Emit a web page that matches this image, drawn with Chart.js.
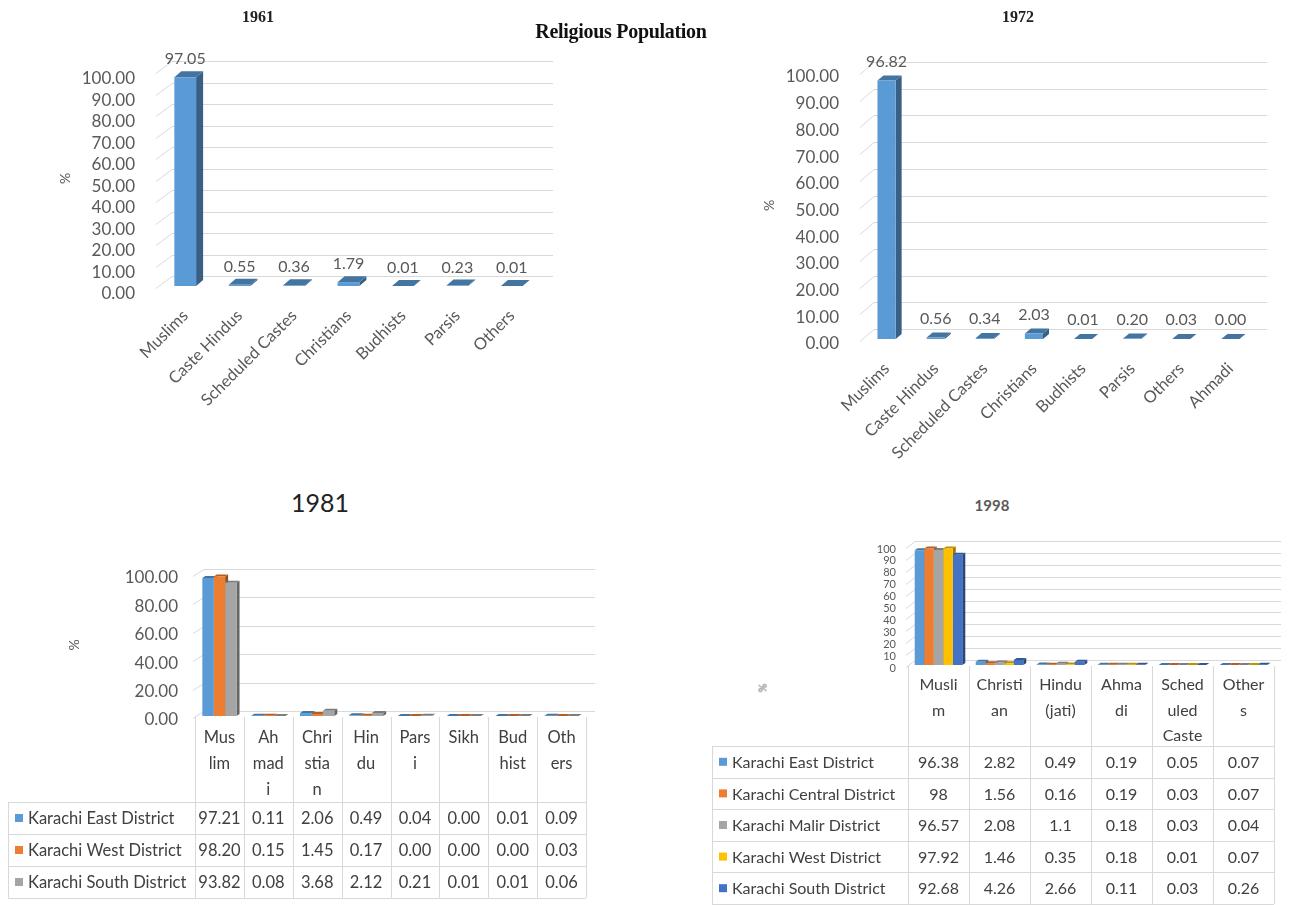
<!DOCTYPE html>
<html>
<head>
<meta charset="utf-8">
<script src="https://cdn.jsdelivr.net/npm/chart.js@4.4.0/dist/chart.umd.min.js"></script>
<style>
  body { margin: 0; background: #fff; }
  #page { position: relative; width: 1290px; height: 905px; overflow: hidden; background: #fff; }
  canvas { position: absolute; }
  .t { position: absolute; transform: translate(-50%, -50%); white-space: nowrap; }
</style>
</head>
<body>
<div id="page">
  <canvas id="c1961" width="640" height="450" style="left:0;top:0"></canvas>
  <canvas id="c1972" width="630" height="470" style="left:660px;top:0"></canvas>
  <canvas id="c1981" width="640" height="385" style="left:0;top:520px"></canvas>
  <canvas id="c1998" width="600" height="385" style="left:690px;top:520px"></canvas>

  <div class="t" style="left:621px;top:31px;font:bold 20px 'Liberation Serif';color:#111;letter-spacing:-0.3px">Religious Population</div>
  <div class="t" style="left:258px;top:17px;font:bold 16px 'Liberation Serif';color:#222">1961</div>
  <div class="t" style="left:1018px;top:17px;font:bold 16px 'Liberation Serif';color:#222">1972</div>
  <div class="t" style="left:320px;top:502px;font:25px Lato;color:#222">1981</div>
  <div class="t" style="left:992px;top:505px;font:bold 15px Lato;color:#595959">1998</div>
  <div class="t" style="left:762px;top:688px;font:11px Lato;color:#595959;transform:translate(-50%,-50%) rotate(-90deg)">%</div>
</div>
<script>
// ---- data ----
var cats1961 = ['Muslims', 'Caste Hindus', 'Scheduled Castes', 'Christians', 'Budhists', 'Parsis', 'Others'];
var vals1961 = [97.05, 0.55, 0.36, 1.79, 0.01, 0.23, 0.01];

var cats1972 = ['Muslims', 'Caste Hindus', 'Scheduled Castes', 'Christians', 'Budhists', 'Parsis', 'Others', 'Ahmadi'];
var vals1972 = [96.82, 0.56, 0.34, 2.03, 0.01, 0.20, 0.03, 0.00];

var cats1981 = ['Muslim', 'Ahmadi', 'Christian', 'Hindu', 'Parsi', 'Sikh', 'Budhist', 'Others'];
var head1981 = [['Mus', 'lim'], ['Ah', 'mad', 'i'], ['Chri', 'stia', 'n'], ['Hin', 'du'], ['Pars', 'i'], ['Sikh'], ['Bud', 'hist'], ['Oth', 'ers']];
var dist1981 = ['Karachi East District', 'Karachi West District', 'Karachi South District'];
var east1981 = [97.21, 0.11, 2.06, 0.49, 0.04, 0.00, 0.01, 0.09];
var west1981 = [98.20, 0.15, 1.45, 0.17, 0.00, 0.00, 0.00, 0.03];
var south1981 = [93.82, 0.08, 3.68, 2.12, 0.21, 0.01, 0.01, 0.06];

var cats1998 = ['Muslim', 'Christian', 'Hindu (jati)', 'Ahmadi', 'Scheduled Caste', 'Others'];
var head1998 = [['Musli', 'm'], ['Christi', 'an'], ['Hindu', '(jati)'], ['Ahma', 'di'], ['Sched', 'uled', 'Caste'], ['Other', 's']];
var dist1998 = ['Karachi East District', 'Karachi Central District', 'Karachi Malir District', 'Karachi West District', 'Karachi South District'];
var east1998 = [96.38, 2.82, 0.49, 0.19, 0.05, 0.07];
var central1998 = [98, 1.56, 0.16, 0.19, 0.03, 0.07];
var malir1998 = [96.57, 2.08, 1.1, 0.18, 0.03, 0.04];
var west1998 = [97.92, 1.46, 0.35, 0.18, 0.01, 0.07];
var south1998 = [92.68, 4.26, 2.66, 0.11, 0.03, 0.26];

var colors1981 = ['#5b9bd5', '#ed7d31', '#a5a5a5'];
var colors1998 = ['#5b9bd5', '#ed7d31', '#a5a5a5', '#ffc000', '#4472c4'];

var grey = '#595959';

function shade(hex, f) {
  var n = parseInt(hex.slice(1), 16);
  var r = (n >> 16) & 255, g = (n >> 8) & 255, b = n & 255;
  return 'rgb(' + Math.round(r * f) + ',' + Math.round(g * f) + ',' + Math.round(b * f) + ')';
}

// back wall grid + 3d faces of the bars
var wall3d = {
  id: 'wall3d',
  beforeDatasetsDraw: function (chart, args, o) {
    var ctx = chart.ctx, a = chart.chartArea, ys = chart.scales.y;
    ctx.save();
    ctx.strokeStyle = '#d9d9d9';
    ctx.lineWidth = 1;
    ys.ticks.forEach(function (t) {
      var y = Math.round(ys.getPixelForValue(t.value)) + 0.5;
      ctx.beginPath();
      ctx.moveTo(a.left - 2, y + 2);
      ctx.lineTo(a.left + o.dx, y - o.dy);
      ctx.lineTo(a.right + o.dx, y - o.dy);
      ctx.stroke();
    });
    chart.data.datasets.forEach(function (ds, i) {
      var meta = chart.getDatasetMeta(i);
      meta.data.forEach(function (bar) {
        var p = bar.getProps(['x', 'y', 'base', 'width'], true);
        var l = p.x - p.width / 2, r = p.x + p.width / 2;
        var top = Math.min(p.y, p.base), bot = Math.max(p.y, p.base);
        ctx.fillStyle = shade(ds.backgroundColor, 0.62);
        ctx.beginPath();
        ctx.moveTo(r, top); ctx.lineTo(r + o.bdx, top - o.bdy);
        ctx.lineTo(r + o.bdx, bot - o.bdy); ctx.lineTo(r, bot);
        ctx.closePath(); ctx.fill();
        ctx.fillStyle = shade(ds.backgroundColor, 0.75);
        ctx.beginPath();
        ctx.moveTo(l, top); ctx.lineTo(l + o.bdx, top - o.bdy);
        ctx.lineTo(r + o.bdx, top - o.bdy); ctx.lineTo(r, top);
        ctx.closePath(); ctx.fill();
      });
    });
    ctx.restore();
  }
};

// value labels over the bars
var barValues = {
  id: 'barValues',
  afterDatasetsDraw: function (chart, args, o) {
    if (!o.show) return;
    var ctx = chart.ctx;
    ctx.save();
    ctx.font = '16px Lato';
    ctx.fillStyle = grey;
    ctx.textAlign = 'center';
    ctx.textBaseline = 'middle';
    var ds = chart.data.datasets[0];
    chart.getDatasetMeta(0).data.forEach(function (bar, i) {
      ctx.fillText(ds.data[i].toFixed(2), bar.x, bar.y - o.gap);
    });
    ctx.restore();
  }
};

// data table under the plot, columns follow the category scale
var dataTable = {
  id: 'dataTable',
  afterDraw: function (chart, args, o) {
    if (!o.headers) return;
    var ctx = chart.ctx, xs = chart.scales.x, a = chart.chartArea;
    var n = chart.data.labels.length;
    var cw = (a.right - a.left) / n;
    var top = a.bottom + 1;
    var hb = top + o.headH;
    var dsets = chart.data.datasets;
    var bottom = hb + o.rowH * dsets.length;
    ctx.save();
    ctx.strokeStyle = '#d9d9d9';
    ctx.lineWidth = 1;
    ctx.beginPath();
    for (var i = 0; i <= n; i++) {
      var x = Math.round(i < n ? xs.getPixelForValue(i) - cw / 2 : xs.getPixelForValue(n - 1) + cw / 2) + 0.5;
      ctx.moveTo(x, top); ctx.lineTo(x, bottom);
    }
    ctx.moveTo(o.left + 0.5, hb); ctx.lineTo(o.left + 0.5, bottom);
    for (var k = 0; k <= dsets.length; k++) {
      var y = Math.round(hb + k * o.rowH) + 0.5;
      ctx.moveTo(o.left, y); ctx.lineTo(a.right, y);
    }
    ctx.stroke();

    ctx.fillStyle = '#404040';
    ctx.font = o.font;
    ctx.textAlign = 'center';
    ctx.textBaseline = 'middle';
    o.headers.forEach(function (lines, i) {
      lines.forEach(function (s, j) {
        ctx.fillText(s, xs.getPixelForValue(i), top + o.headPad + j * o.lineH);
      });
    });
    dsets.forEach(function (ds, r) {
      var cy = hb + (r + 0.5) * o.rowH;
      ctx.fillStyle = ds.backgroundColor;
      ctx.fillRect(o.left + 7, cy - 4, 8, 8);
      ctx.fillStyle = '#404040';
      ctx.textAlign = 'left';
      ctx.fillText(ds.label, o.left + 20, cy + 1);
      ctx.textAlign = 'center';
      ds.data.forEach(function (v, i) {
        ctx.fillText(o.fixed ? v.toFixed(2) : String(v), xs.getPixelForValue(i), cy + 1);
      });
    });
    ctx.restore();
  }
};

function yAxis(step, pad, off, width, fontSize, fmt, title) {
  return {
    min: 0, max: 100,
    grid: { display: false, drawTicks: false },
    border: { display: false },
    ticks: {
      stepSize: step, padding: pad, labelOffset: off, autoSkip: false,
      color: grey, font: { family: 'Lato', size: fontSize },
      callback: function (v) { return fmt ? v.toFixed(2) : String(v); }
    },
    title: { display: !!title, text: '%', color: grey, font: { family: 'Lato', size: 14 }, padding: 0 },
    afterFit: function (s) { s.width = width; }
  };
}

// 1961
new Chart(document.getElementById('c1961'), {
  type: 'bar',
  data: { labels: cats1961, datasets: [{ label: '1961', data: vals1961, backgroundColor: '#5b9bd5' }] },
  options: {
    responsive: false, animation: false,
    layout: { padding: { left: 57, top: 71, right: 101, bottom: 4 } },
    datasets: { bar: { categoryPercentage: 1, barPercentage: 0.4 } },
    plugins: {
      legend: { display: false }, tooltip: { enabled: false },
      wall3d: { dx: 14, dy: 10, bdx: 7, bdy: 6 },
      barValues: { show: true, gap: 18 }
    },
    scales: {
      x: {
        grid: { display: false, drawTicks: false }, border: { display: false },
        ticks: { color: grey, font: { family: 'Lato', size: 16.5 }, minRotation: 45, maxRotation: 45, padding: 20, autoSkip: false },
        afterFit: function (s) { s.height = 160; }
      },
      y: yAxis(10, 23, 8, 101, 17, true, true)
    }
  },
  plugins: [wall3d, barValues]
});

// 1972
new Chart(document.getElementById('c1972'), {
  type: 'bar',
  data: { labels: cats1972, datasets: [{ label: '1972', data: vals1972, backgroundColor: '#5b9bd5' }] },
  options: {
    responsive: false, animation: false,
    layout: { padding: { left: 101, top: 72, right: 35, bottom: 4 } },
    datasets: { bar: { categoryPercentage: 1, barPercentage: 0.37 } },
    plugins: {
      legend: { display: false }, tooltip: { enabled: false },
      wall3d: { dx: 12, dy: 10, bdx: 6, bdy: 5 },
      barValues: { show: true, gap: 19 }
    },
    scales: {
      x: {
        grid: { display: false, drawTicks: false }, border: { display: false },
        ticks: { color: grey, font: { family: 'Lato', size: 16.5 }, minRotation: 45, maxRotation: 45, padding: 20, autoSkip: false },
        afterFit: function (s) { s.height = 127; }
      },
      y: yAxis(10, 23, 5, 101, 17, true, true)
    }
  },
  plugins: [wall3d, barValues]
});

// 1981
new Chart(document.getElementById('c1981'), {
  type: 'bar',
  data: {
    labels: cats1981,
    datasets: [
      { label: dist1981[0], data: east1981, backgroundColor: colors1981[0] },
      { label: dist1981[1], data: west1981, backgroundColor: colors1981[1] },
      { label: dist1981[2], data: south1981, backgroundColor: colors1981[2] }
    ]
  },
  options: {
    responsive: false, animation: false,
    layout: { padding: { left: 66, top: 54, right: 54, bottom: 7 } },
    datasets: { bar: { categoryPercentage: 0.7, barPercentage: 1 } },
    plugins: {
      legend: { display: false }, tooltip: { enabled: false },
      wall3d: { dx: 9, dy: 5, bdx: 3, bdy: 2 },
      dataTable: { headers: head1981, left: 8, headH: 85, rowH: 32, headPad: 21, lineH: 26, font: '16.5px Lato', fixed: true }
    },
    scales: {
      x: {
        grid: { display: false }, border: { display: false }, ticks: { display: false },
        afterFit: function (s) { s.height = 182; }
      },
      y: yAxis(20, 17, 4, 129, 17, true, true)
    }
  },
  plugins: [wall3d, dataTable]
});

// 1998
new Chart(document.getElementById('c1998'), {
  type: 'bar',
  data: {
    labels: cats1998,
    datasets: [
      { label: dist1998[0], data: east1998, backgroundColor: colors1998[0] },
      { label: dist1998[1], data: central1998, backgroundColor: colors1998[1] },
      { label: dist1998[2], data: malir1998, backgroundColor: colors1998[2] },
      { label: dist1998[3], data: west1998, backgroundColor: colors1998[3] },
      { label: dist1998[4], data: south1998, backgroundColor: colors1998[4] }
    ]
  },
  options: {
    responsive: false, animation: false,
    layout: { padding: { left: 160, top: 26, right: 16, bottom: 0 } },
    datasets: { bar: { categoryPercentage: 0.78, barPercentage: 1 } },
    plugins: {
      legend: { display: false }, tooltip: { enabled: false },
      wall3d: { dx: 7, dy: 5, bdx: 3, bdy: 2 },
      dataTable: { headers: head1998, left: 22, headH: 80, rowH: 31.6, headPad: 19, lineH: 25.5, font: '16px Lato', fixed: false }
    },
    scales: {
      x: {
        grid: { display: false }, border: { display: false }, ticks: { display: false },
        afterFit: function (s) { s.height = 240; }
      },
      y: yAxis(10, 12, 3, 58, 11, false, false)
    }
  },
  plugins: [wall3d, dataTable]
});
</script>
</body>
</html>
